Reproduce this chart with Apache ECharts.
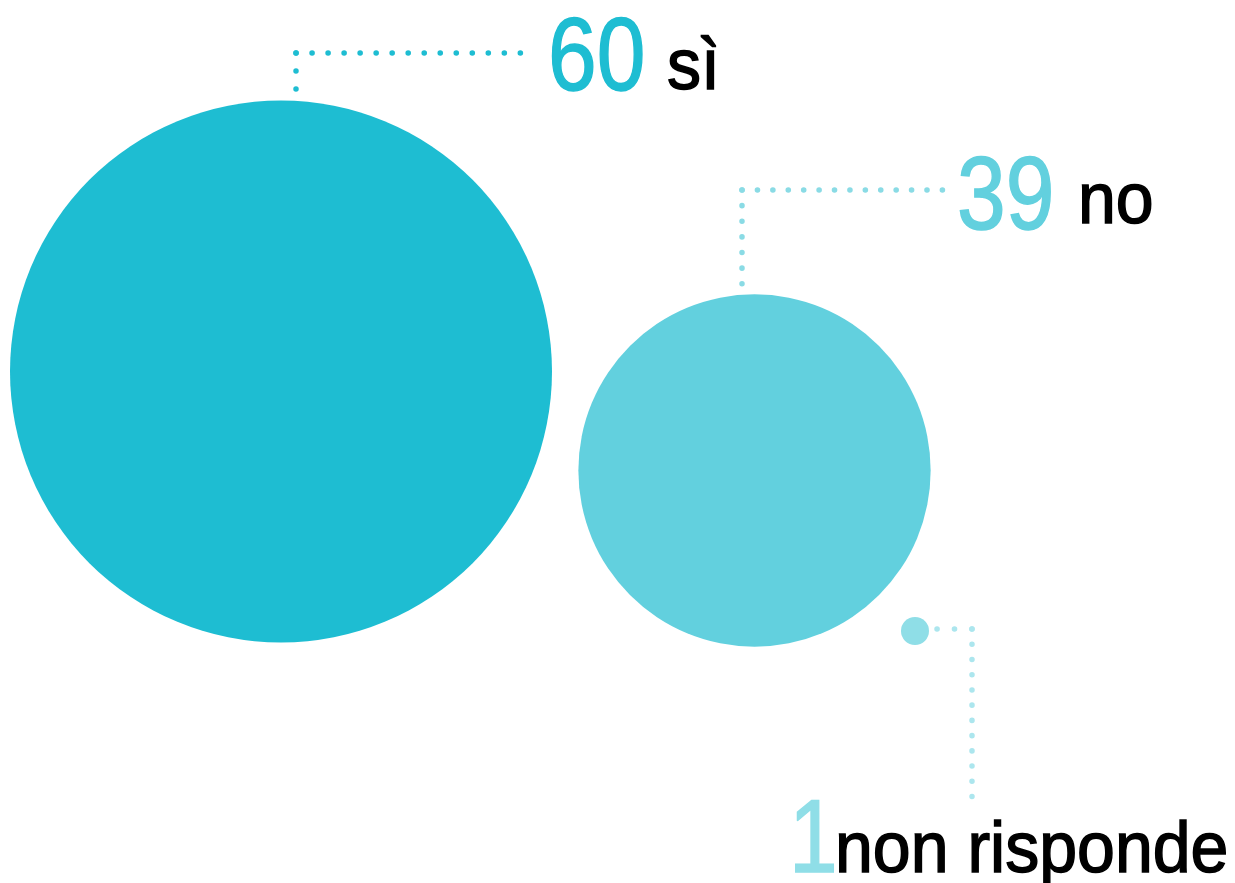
<!DOCTYPE html>
<html>
<head>
<meta charset="utf-8">
<style>
  html, body { margin: 0; padding: 0; background: #fff; }
  #chart { width: 1235px; height: 883px; }
</style>
<script src="https://cdn.jsdelivr.net/npm/echarts@6/dist/echarts.min.js"></script>
</head>
<body>
<div id="chart"></div>
<script>
  // risposte
  const categories = ['sì', 'no', 'non risponde']
  const values = [60, 39, 1]
  const colors = ['#1ebdd2', '#62d0de', '#8fdee7']
  const dotColors = ['#1ebdd2', '#8adbe5', '#ace6ee']

  // layout in axis units (same scale as the page)
  const bubbleX = [281, 754.5, 915]
  const bubbleY = [371.5, 470.5, 631]
  // leader segments: [corner, end, number of gaps between dots], per answer
  const leaderSegments = [
    [[[296, 53], [296, 89], 2], [[296, 53], [521, 53], 14]],
    [[[742, 190], [742, 284], 6], [[742, 190], [943, 190], 13]],
    [[[972, 629], [937, 629], 2], [[972, 629], [972, 797], 11]]
  ]
  // text baselines: number origin, word origin
  const numberBase = [[548, 90], [957, 229], [789, 872]]
  const wordBase = [[667, 89], [1078, 223], [835, 872]]

  const NUM_SIZE = 103
  const WORD_SIZE = 72

  const chart = echarts.init(document.getElementById('chart'))

  const leaderData = []
  leaderSegments.forEach((segs, i) => {
    segs.forEach(s => {
      const a = s[0]
      const b = s[1]
      const len = Math.hypot(b[0] - a[0], b[1] - a[1])
      leaderData.push({
        coords: [a, b],
        lineStyle: { color: dotColors[i], type: [0.1, len / s[2] - 0.15] }
      })
    })
  })

  chart.setOption({
    backgroundColor: '#fff',
    animation: false,
    grid: { left: 0, right: 0, top: 0, bottom: 0 },
    xAxis: { type: 'value', min: 0, max: 1235, show: false },
    yAxis: { type: 'value', min: 0, max: 883, inverse: true, show: false },
    series: [
      {
        type: 'lines',
        coordinateSystem: 'cartesian2d',
        silent: true,
        data: leaderData,
        lineStyle: { width: 5.5, cap: 'round', opacity: 1 }
      },
      {
        type: 'scatter',
        symbol: 'circle',
        symbolSize: function (v) {
          return Math.max(v[2] * 542 / 60, 28)
        },
        data: values.map((v, i) => ({
          value: [bubbleX[i], bubbleY[i], v],
          itemStyle: { color: colors[i], opacity: 1 }
        }))
      },
      {
        type: 'custom',
        coordinateSystem: 'cartesian2d',
        silent: true,
        data: values.map((v, i) => [numberBase[i][0], numberBase[i][1], wordBase[i][0], wordBase[i][1]]),
        encode: { x: [0, 2], y: [1, 3] },
        renderItem: function (params, api) {
          const i = params.dataIndex
          const pn = api.coord([api.value(0), api.value(1)])
          const pw = api.coord([api.value(2), api.value(3)])
          return {
            type: 'group',
            children: [
              {
                type: 'text',
                x: pn[0],
                y: pn[1] - NUM_SIZE * 0.28,
                scaleX: 0.85,
                style: {
                  text: String(values[i]),
                  fill: colors[i],
                  stroke: colors[i],
                  lineWidth: 1.5,
                  font: NUM_SIZE + 'px "Liberation Sans", sans-serif',
                  verticalAlign: 'middle'
                }
              },
              {
                type: 'text',
                x: pw[0],
                y: pw[1] - WORD_SIZE * 0.28,
                scaleX: 0.945,
                style: {
                  text: categories[i],
                  fill: '#000',
                  stroke: '#000',
                  lineWidth: 1.5,
                  font: WORD_SIZE + 'px "Liberation Sans", sans-serif',
                  verticalAlign: 'middle'
                }
              }
            ]
          }
        }
      }
    ]
  })
</script>
</body>
</html>
